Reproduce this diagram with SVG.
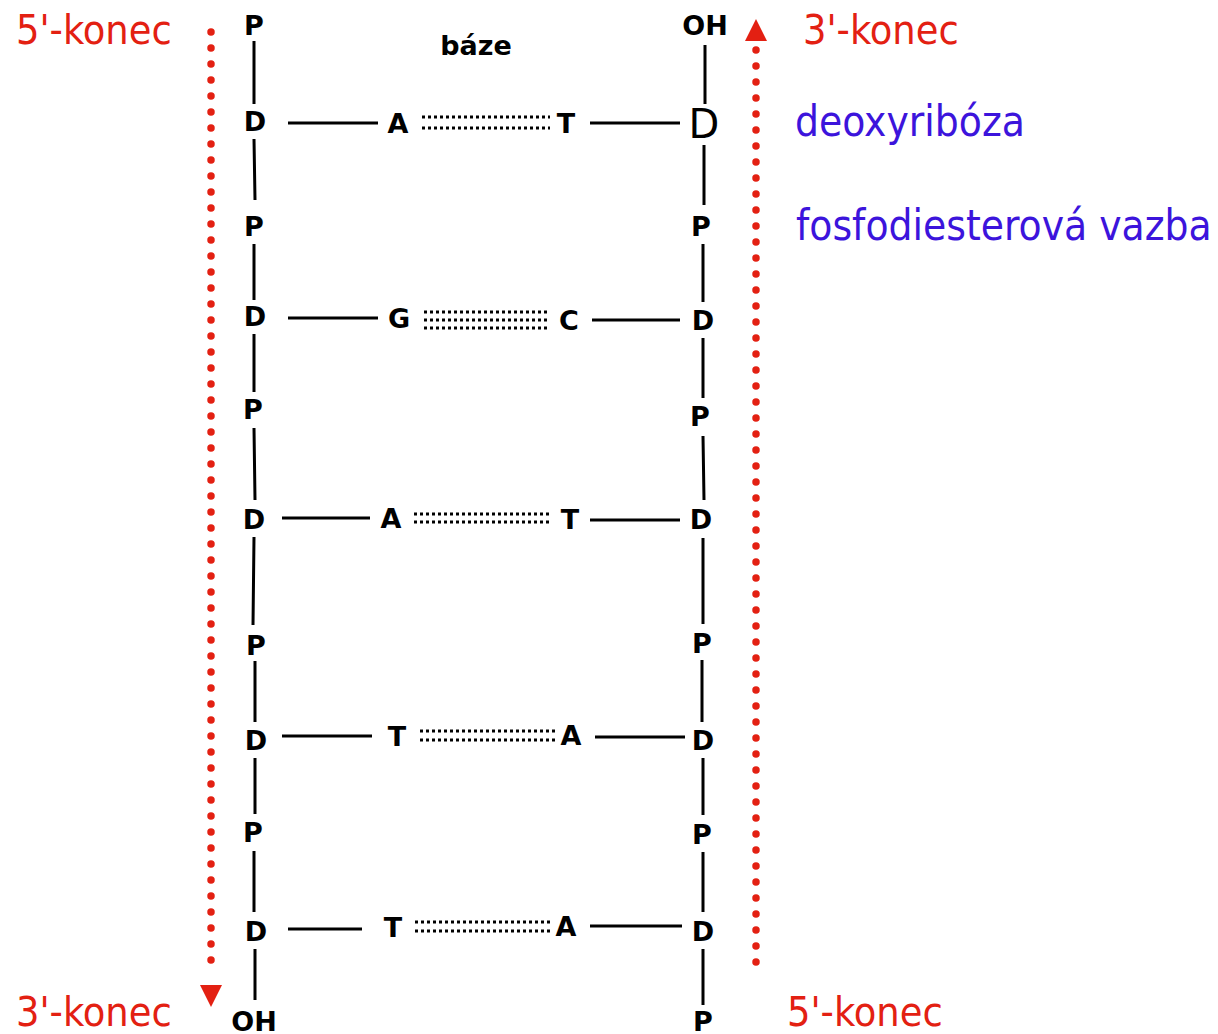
<svg xmlns="http://www.w3.org/2000/svg" width="1218" height="1034" viewBox="0 0 1218 1034">
<style>
.n{font-family:"DejaVu Sans",sans-serif;font-weight:bold;font-size:27px;fill:#000;text-anchor:middle}
.big{font-family:"DejaVu Sans",sans-serif;font-size:40px;fill:#000;text-anchor:middle}
.red{font-family:"DejaVu Sans Condensed","DejaVu Sans",sans-serif;font-size:41px;fill:#E32012}
.blue{font-family:"DejaVu Sans Condensed","DejaVu Sans",sans-serif;font-size:42px;fill:#3C14DC}
.s{stroke:#000;stroke-width:3;fill:none}
.h{stroke:#000;stroke-width:3;stroke-dasharray:3 3;fill:none}
.rd{stroke:#E32012;stroke-width:7.5;stroke-linecap:round;stroke-dasharray:0 16;fill:none}
</style>
<g id="connectors">
<path class="s" d="M254 41V104M254 139L255 200M254 244V300M254 334V392M254 428L255 500M254 537L253 625M255 661V722M255 758V814M254 851V912M255 949V1000"/>
<path class="s" d="M705 45V104M704 145V205M703 244V302M703 338V398M703 436L704 500M703 538V624M702 660V722M703 758V815M703 852V912M703 949V1005"/>
<path class="s" d="M288 123H378M590 123H680M288 318H378M592 320H680M282 518H370M590 520H680M282 736H372M595 737H685M288 929H362M590 926H682"/>
<path class="h" d="M422 117H550M422 128H550M424 312H550M424 320H550M424 328H548M414 514H550M414 522H550M420 731H558M420 740H558M415 922H553M415 931H553"/>
<path class="rd" d="M211 32V970"/>
<polygon points="200,985 222,985 211,1007" fill="#E32012"/>
<path class="rd" d="M756 50V978"/>
<polygon points="745,41 767,41 756,19" fill="#E32012"/>
</g>
<g id="left-strand">
<text class="n" x="254" y="35">P</text>
<text class="n" x="255" y="131">D</text>
<text class="n" x="254" y="236">P</text>
<text class="n" x="255" y="326">D</text>
<text class="n" x="253" y="419">P</text>
<text class="n" x="254" y="529">D</text>
<text class="n" x="256" y="655">P</text>
<text class="n" x="256" y="750">D</text>
<text class="n" x="253" y="842">P</text>
<text class="n" x="256" y="941">D</text>
<text class="n" x="254" y="1031">OH</text>
</g>
<g id="right-strand">
<text class="n" x="705" y="35">OH</text>
<text class="big" x="704" y="138">D</text>
<text class="n" x="701" y="236">P</text>
<text class="n" x="703" y="330">D</text>
<text class="n" x="700" y="426">P</text>
<text class="n" x="701" y="529">D</text>
<text class="n" x="702" y="653">P</text>
<text class="n" x="703" y="750">D</text>
<text class="n" x="702" y="844">P</text>
<text class="n" x="703" y="941">D</text>
<text class="n" x="703" y="1031">P</text>
</g>
<g id="bases">
<text class="n" x="476" y="55">báze</text>
<text class="n" x="398" y="133">A</text>
<text class="n" x="566" y="133">T</text>
<text class="n" x="399" y="328">G</text>
<text class="n" x="569" y="330">C</text>
<text class="n" x="391" y="528">A</text>
<text class="n" x="570" y="529">T</text>
<text class="n" x="397" y="746">T</text>
<text class="n" x="571" y="745">A</text>
<text class="n" x="393" y="937">T</text>
<text class="n" x="566" y="936">A</text>
</g>
<g id="labels">
<text class="red" x="16" y="44">5'-konec</text>
<text class="red" x="803" y="44">3'-konec</text>
<text class="red" x="16" y="1026">3'-konec</text>
<text class="red" x="787" y="1026">5'-konec</text>
<text class="blue" x="795" y="136">deoxyribóza</text>
<text class="blue" x="796" y="240">fosfodiesterová vazba</text>
</g>
</svg>
